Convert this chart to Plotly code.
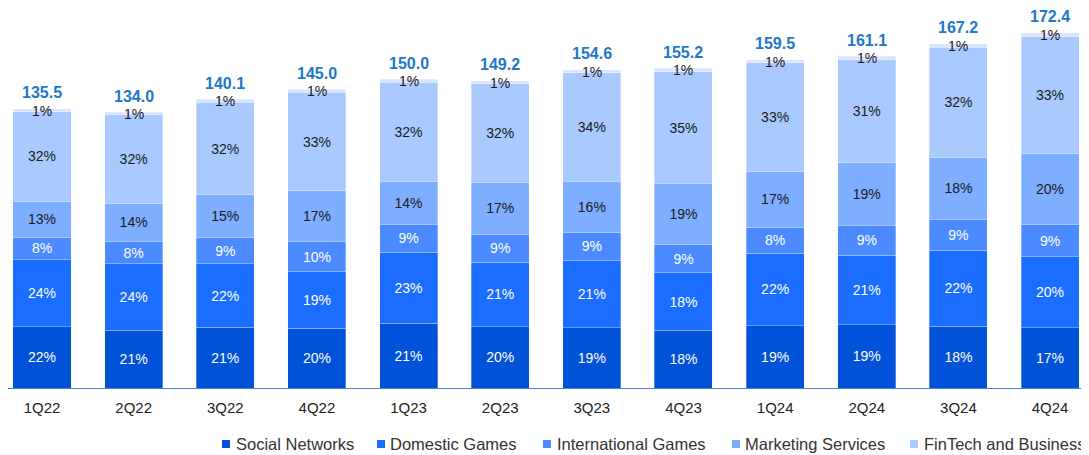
import plotly.graph_objects as go

quarters = ["1Q22", "2Q22", "3Q22", "4Q22", "1Q23", "2Q23", "3Q23", "4Q23",
            "1Q24", "2Q24", "3Q24", "4Q24"]
totals = [135.5, 134.0, 140.1, 145.0, 150.0, 149.2, 154.6, 155.2, 159.5, 161.1, 167.2, 172.4]

# share of revenue, % (bottom to top)
social_pct = [22, 21, 21, 20, 21, 20, 19, 18, 19, 19, 18, 17]
domestic_pct = [24, 24, 22, 19, 23, 21, 21, 18, 22, 21, 22, 20]
intl_pct = [8, 8, 9, 10, 9, 9, 9, 9, 8, 9, 9, 9]
marketing_pct = [13, 14, 15, 17, 14, 17, 16, 19, 17, 19, 18, 20]
fintech_pct = [32, 32, 32, 33, 32, 32, 34, 35, 33, 31, 32, 33]
others_pct = [1] * 12

segments = [
    ("Social Networks", social_pct, "#0052D9", "white", True),
    ("Domestic Games", domestic_pct, "#1A6DFF", "white", True),
    ("International Games", intl_pct, "#4B8BFF", "white", True),
    ("Marketing Services", marketing_pct, "#7EAEFF", "#1a1a1a", True),
    ("FinTech and Business Services", fintech_pct, "#A9C9FF", "#1a1a1a", True),
    ("Others", others_pct, "#D8E5FF", "#1a1a1a", False),
]

FONT = "Liberation Sans, Arial, sans-serif"

fig = go.Figure()
for name, pct, color, txt_color, labelled in segments:
    vals = [p / 100 * t for p, t in zip(pct, totals)]
    fig.add_trace(go.Bar(
        x=quarters, y=vals, name=name, showlegend=False,
        marker=dict(color=color, line=dict(color="rgba(255,255,255,0.5)", width=0.6)),
        text=[f"{p}%" for p in pct] if labelled else None,
        textposition="inside" if labelled else "none",
        insidetextanchor="middle", textangle=0,
        textfont=dict(color=txt_color, size=14, family=FONT),
        hoverinfo="skip",
    ))

annotations = []
for q, t, p in zip(quarters, totals, others_pct):
    # total above the bar
    annotations.append(dict(x=q, y=t, text=f"<b>{t:.1f}</b>", showarrow=False,
                            yanchor="middle", yshift=16,
                            font=dict(color="#1E78C8", size=16, family=FONT)))
    # "1%" label for the thin top segment
    annotations.append(dict(x=q, y=t, text=f"{p}%", showarrow=False,
                            yanchor="middle", yshift=-2,
                            font=dict(color="#1a1a1a", size=14, family=FONT)))

# page body has an 8px margin, so the figure is a bit smaller than the window
W, H = 1081, 447
PLOT_TOP, PLOT_BOTTOM = 12, 380
PLOT_H = PLOT_BOTTOM - PLOT_TOP

# hand-made legend below the chart (marker left edge, text left edge in px)
legend_pos = [(214, 226), (369, 380), (535, 547), (724, 735), (902, 914)]
legend_y = 436
shapes = []
for (name, pct, color, _, _), (mx, tx) in zip(segments[:5], legend_pos):
    shapes.append(dict(type="rect", xref="paper", yref="paper",
                       x0=mx / W, x1=(mx + 8) / W,
                       y0=(PLOT_BOTTOM - legend_y - 4) / PLOT_H,
                       y1=(PLOT_BOTTOM - legend_y + 4) / PLOT_H,
                       fillcolor=color, line=dict(width=0)))
    annotations.append(dict(xref="paper", yref="paper", x=tx / W,
                            y=(PLOT_BOTTOM - legend_y) / PLOT_H,
                            xanchor="left", yanchor="middle", text=name, showarrow=False,
                            font=dict(size=16.5, color="#333333", family=FONT)))

fig.update_layout(
    width=W, height=H,
    barmode="stack", bargap=0.367,
    plot_bgcolor="white", paper_bgcolor="white",
    margin=dict(l=0, r=0, t=PLOT_TOP, b=H - PLOT_BOTTOM),
    font=dict(family=FONT, size=15, color="#333333"),
    uniformtext=dict(minsize=14, mode="show"),
    showlegend=False,
    annotations=annotations, shapes=shapes,
    xaxis=dict(range=[-0.371, 11.425], showline=True, linecolor="#4A80D8", linewidth=1,
               ticks="outside", ticklen=6, tickcolor="rgba(0,0,0,0)",
               tickfont=dict(size=15, color="#222222"), showgrid=False),
    yaxis=dict(range=[0, 178.7], visible=False, showgrid=False),
)

fig.write_html("out.html")
